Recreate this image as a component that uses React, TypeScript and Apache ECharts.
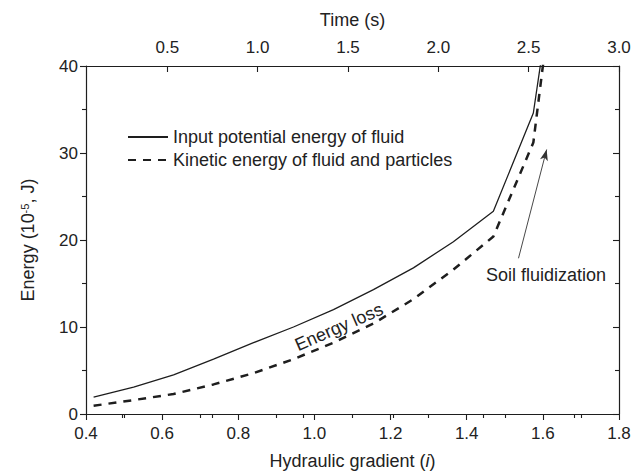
import React, { useEffect, useRef } from 'react';
import * as echarts from 'echarts';

// Hydraulic gradient (i) sample points
const gradient = [0.42, 0.525, 0.63, 0.735, 0.84, 0.945, 1.05, 1.155, 1.26, 1.365, 1.47, 1.575, 1.61];
// Input potential energy of fluid (10^-5 J)
const inputEnergy = [1.95, 3.1, 4.5, 6.3, 8.2, 10.0, 12.0, 14.3, 16.8, 19.8, 23.3, 34.6, 45];
// Kinetic energy of fluid and particles (10^-5 J)
const kineticEnergy = [0.95, 1.6, 2.3, 3.4, 4.7, 6.3, 8.2, 10.4, 13.2, 16.6, 20.4, 31.2, 43.5];

const seriesNames = ['Input potential energy of fluid', 'Kinetic energy of fluid and particles'];

// Top (time) axis
const timeMin = 0.05;
const timeMax = 3.0;
const timeMajorTicks = [0.5, 1.0, 1.5, 2.0, 2.5, 3.0];
const timeMinorTicks = [0.25, 0.75, 1.25, 1.75, 2.25, 2.75];

// Annotation arrow (data coords: gradient, energy)
const arrowFrom = [1.536, 17.9];
const arrowTo = [1.61, 30.4];

const FONT = '"Liberation Sans", Arial, Helvetica, sans-serif';
const INK = '#1e1e1e';
const TXT = '#222';

export default function App() {
  const ref = useRef<HTMLDivElement>(null);

  useEffect(() => {
    if (!ref.current) return;
    const chart = echarts.init(ref.current, undefined, { renderer: 'svg' });

    const axisLine = { show: true, onZero: false, lineStyle: { color: INK, width: 1.2 } };
    const labelStyle = { fontSize: 17, color: TXT, fontFamily: FONT };
    const nameStyle = { fontSize: 18, color: TXT, fontFamily: FONT };

    const option: any = {
      animation: false,
      backgroundColor: '#ffffff',
      textStyle: { fontFamily: FONT },
      grid: { left: 86, right: 25, top: 66, bottom: 60, containLabel: false, outerBoundsMode: 'none' },
      legend: {
        data: seriesNames,
        orient: 'vertical',
        left: 127,
        top: 128,
        padding: 0,
        itemWidth: 40,
        itemHeight: 14,
        itemGap: 5,
        itemStyle: { opacity: 0 },
        textStyle: { fontSize: 18, lineHeight: 18, color: TXT, fontFamily: FONT },
        selectedMode: false,
      },
      xAxis: [
        {
          type: 'value',
          position: 'bottom',
          min: 0.4,
          max: 1.8,
          interval: 0.2,
          axisLine,
          axisTick: { show: true, inside: false, length: 6, lineStyle: { color: INK, width: 1.1 } },
          minorTick: { show: true, splitNumber: 2, length: 4, lineStyle: { color: INK, width: 1.1 } },
          splitLine: { show: false },
          axisLabel: { ...labelStyle, margin: 11, formatter: (v: number) => v.toFixed(1) },
          name: 'Hydraulic gradient ({it|i})',
          nameLocation: 'middle',
          nameGap: 38,
          nameTextStyle: {
            ...nameStyle,
            rich: { it: { ...nameStyle, fontStyle: 'italic' } },
          },
        },
        {
          type: 'value',
          position: 'top',
          min: timeMin,
          max: timeMax,
          axisLine,
          axisTick: {
            show: true,
            inside: true,
            length: 6,
            customValues: timeMajorTicks,
            lineStyle: { color: INK, width: 1.1 },
          },
          splitLine: { show: false },
          axisLabel: {
            ...labelStyle,
            margin: 10,
            customValues: timeMajorTicks,
            formatter: (v: number) => v.toFixed(1),
          },
          name: 'Time (s)',
          nameLocation: 'middle',
          nameGap: 37,
          nameTextStyle: nameStyle,
        },
        {
          type: 'value',
          position: 'top',
          min: timeMin,
          max: timeMax,
          axisLine: { show: false },
          axisTick: {
            show: true,
            inside: true,
            length: 4,
            customValues: timeMinorTicks,
            lineStyle: { color: INK, width: 1.1 },
          },
          splitLine: { show: false },
          axisLabel: { show: false },
        },
      ],
      yAxis: [
        {
          type: 'value',
          position: 'left',
          min: 0,
          max: 40,
          interval: 10,
          axisLine,
          axisTick: { show: true, inside: false, length: 6, lineStyle: { color: INK, width: 1.1 } },
          minorTick: { show: true, splitNumber: 2, length: 4, lineStyle: { color: INK, width: 1.1 } },
          splitLine: { show: false },
          axisLabel: { ...labelStyle, margin: 8 },
          name: 'Energy (10{sup|-5}, J)',
          nameLocation: 'middle',
          nameGap: 49,
          nameTextStyle: {
            ...nameStyle,
            rich: { sup: { fontSize: 11, verticalAlign: 'top', color: TXT, fontFamily: FONT } },
          },
        },
        {
          type: 'value',
          position: 'right',
          min: 0,
          max: 40,
          interval: 10,
          axisLine,
          axisTick: { show: true, inside: true, length: 6, lineStyle: { color: INK, width: 1.1 } },
          minorTick: { show: true, splitNumber: 2, length: 4, lineStyle: { color: INK, width: 1.1 } },
          splitLine: { show: false },
          axisLabel: { show: false },
        },
      ],
      series: [
        {
          name: seriesNames[0],
          type: 'line',
          xAxisIndex: 0,
          yAxisIndex: 0,
          symbol: 'none',
          clip: true,
          color: INK,
          lineStyle: { color: INK, width: 1.3, type: 'solid' },
          data: gradient.map((g, k) => [g, inputEnergy[k]]),
          markLine: {
            silent: true,
            symbol: ['none', 'arrow'],
            symbolSize: [6, 11],
            label: { show: false },
            lineStyle: { color: '#333', width: 0.9, type: 'solid' },
            data: [[{ coord: arrowFrom }, { coord: arrowTo }]],
          },
        },
        {
          name: seriesNames[1],
          type: 'line',
          xAxisIndex: 0,
          yAxisIndex: 0,
          symbol: 'none',
          clip: true,
          color: INK,
          lineStyle: { color: INK, width: 2.5, type: [8, 7] },
          data: gradient.map((g, k) => [g, kineticEnergy[k]]),
        },
      ],
      graphic: [
        {
          type: 'text',
          x: 339,
          y: 327,
          rotation: 0.41,
          style: {
            text: 'Energy loss',
            fontSize: 18,
            fontFamily: FONT,
            fill: TXT,
            align: 'center',
            verticalAlign: 'middle',
          },
        },
        {
          type: 'text',
          x: 486,
          y: 275,
          style: {
            text: 'Soil fluidization',
            fontSize: 18,
            fontFamily: FONT,
            fill: TXT,
            align: 'left',
            verticalAlign: 'middle',
          },
        },
      ],
    };

    chart.setOption(option);
    return () => {
      chart.dispose();
    };
  }, []);

  return (
    <div
      ref={ref}
      style={{ position: 'absolute', left: 0, top: 0, width: 644, height: 474, background: '#fff' }}
    />
  );
}
